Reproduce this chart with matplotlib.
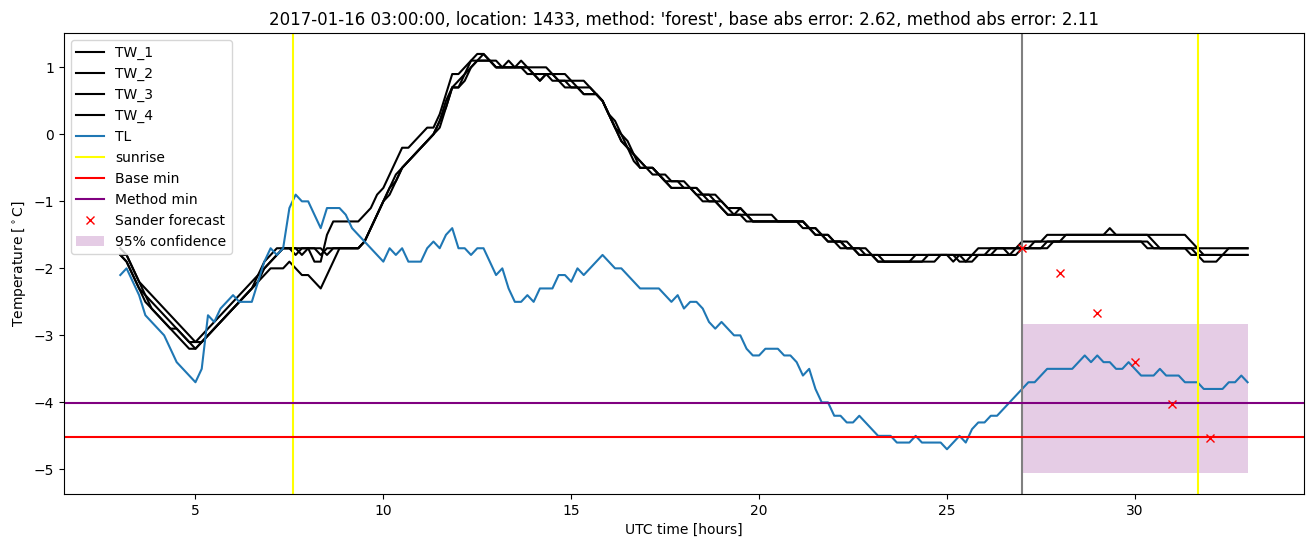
import numpy as np
import matplotlib
matplotlib.use("Agg")
import matplotlib.pyplot as plt

# time grid: 10-minute steps from 03:00 to 33:00 (hours since start of day)
start_hour = 3.0
step_hours = 1.0 / 6.0

TL = [
    -2.1, -2.0, -2.2, -2.4, -2.7, -2.8,   # 3
    -2.9, -3.0, -3.2, -3.4, -3.5, -3.6,   # 4
    -3.7, -3.5, -2.7, -2.8, -2.6, -2.5,   # 5
    -2.4, -2.5, -2.5, -2.5, -2.2, -1.9,   # 6
    -1.7, -1.8, -1.7, -1.1, -0.9, -1.0,   # 7
    -1.0, -1.2, -1.4, -1.1, -1.1, -1.1,   # 8
    -1.2, -1.4, -1.5, -1.6, -1.7, -1.8,   # 9
    -1.9, -1.7, -1.8, -1.7, -1.9, -1.9,   # 10
    -1.9, -1.7, -1.6, -1.7, -1.5, -1.4,   # 11
    -1.7, -1.7, -1.8, -1.7, -1.7, -1.9,   # 12
    -2.1, -2.0, -2.3, -2.5, -2.5, -2.4,   # 13
    -2.5, -2.3, -2.3, -2.3, -2.1, -2.1,   # 14
    -2.2, -2.0, -2.1, -2.0, -1.9, -1.8,   # 15
    -1.9, -2.0, -2.0, -2.1, -2.2, -2.3,   # 16
    -2.3, -2.3, -2.3, -2.4, -2.5, -2.4,   # 17
    -2.6, -2.5, -2.5, -2.6, -2.8, -2.9,   # 18
    -2.8, -2.9, -3.0, -3.0, -3.2, -3.3,   # 19
    -3.3, -3.2, -3.2, -3.2, -3.3, -3.3,   # 20
    -3.4, -3.6, -3.5, -3.8, -4.0, -4.0,   # 21
    -4.2, -4.2, -4.3, -4.3, -4.2, -4.3,   # 22
    -4.4, -4.5, -4.5, -4.5, -4.6, -4.6,   # 23
    -4.6, -4.5, -4.6, -4.6, -4.6, -4.6,   # 24
    -4.7, -4.6, -4.5, -4.6, -4.4, -4.3,   # 25
    -4.3, -4.2, -4.2, -4.1, -4.0, -3.9,   # 26
    -3.8, -3.7, -3.7, -3.6, -3.5, -3.5,   # 27
    -3.5, -3.5, -3.5, -3.4, -3.3, -3.4,   # 28
    -3.3, -3.4, -3.4, -3.5, -3.5, -3.4,   # 29
    -3.5, -3.6, -3.6, -3.6, -3.5, -3.6,   # 30
    -3.6, -3.6, -3.7, -3.7, -3.7, -3.8,   # 31
    -3.8, -3.8, -3.8, -3.7, -3.7, -3.6,   # 32
    -3.7,                                 # 33
]

TW_1 = [
    -1.7, -1.8, -2.0, -2.2, -2.3, -2.4,
    -2.5, -2.6, -2.7, -2.8, -2.9, -3.0,
    -3.1, -3.0, -2.9, -2.8, -2.7, -2.6,
    -2.5, -2.4, -2.3, -2.2, -2.1, -1.9,
    -1.8, -1.7, -1.7, -1.7, -1.8, -1.7,
    -1.7, -1.9, -1.9, -1.5, -1.3, -1.3,
    -1.3, -1.3, -1.3, -1.2, -1.1, -0.9,
    -0.8, -0.6, -0.4, -0.2, -0.2, -0.1,
    0.0, 0.1, 0.1, 0.3, 0.6, 0.9,
    0.9, 1.0, 1.1, 1.2, 1.2, 1.1,
    1.1, 1.0, 1.1, 1.0, 1.0, 1.0,
    1.0, 1.0, 1.0, 0.9, 0.9, 0.9,
    0.8, 0.8, 0.8, 0.7, 0.6, 0.5,
    0.3, 0.2, 0.0, -0.1, -0.3, -0.4,
    -0.5, -0.5, -0.6, -0.6, -0.7, -0.7,
    -0.7, -0.8, -0.8, -0.9, -0.9, -0.9,
    -1.0, -1.1, -1.1, -1.1, -1.2, -1.2,
    -1.2, -1.2, -1.2, -1.3, -1.3, -1.3,
    -1.3, -1.3, -1.4, -1.4, -1.5, -1.5,
    -1.6, -1.6, -1.6, -1.7, -1.7, -1.7,
    -1.8, -1.8, -1.8, -1.8, -1.8, -1.8,
    -1.8, -1.8, -1.8, -1.8, -1.8, -1.8,
    -1.8, -1.8, -1.8, -1.8, -1.8, -1.7,
    -1.7, -1.7, -1.7, -1.7, -1.7, -1.7,
    -1.6, -1.6, -1.6, -1.6, -1.5, -1.5,
    -1.5, -1.5, -1.5, -1.5, -1.5, -1.5,
    -1.5, -1.5, -1.4, -1.5, -1.5, -1.5,
    -1.5, -1.5, -1.5, -1.5, -1.5, -1.5,
    -1.5, -1.5, -1.5, -1.6, -1.7, -1.7,
    -1.7, -1.7, -1.7, -1.7, -1.7, -1.7,
    -1.7,
]

TW_2 = [
    -1.8, -1.9, -2.1, -2.3, -2.4, -2.5,
    -2.6, -2.7, -2.8, -2.9, -3.0, -3.1,
    -3.1, -3.1, -3.0, -2.9, -2.8, -2.7,
    -2.6, -2.5, -2.4, -2.3, -2.1, -2.0,
    -1.9, -1.8, -1.7, -1.7, -1.7, -1.7,
    -1.7, -1.7, -1.8, -1.7, -1.7, -1.7,
    -1.7, -1.7, -1.7, -1.6, -1.4, -1.2,
    -1.0, -0.8, -0.6, -0.5, -0.4, -0.3,
    -0.2, -0.1, 0.0, 0.2, 0.4, 0.7,
    0.8, 0.9, 1.1, 1.1, 1.2, 1.1,
    1.0, 1.0, 1.0, 1.0, 1.1, 1.0,
    0.9, 0.8, 0.9, 0.9, 0.8, 0.8,
    0.8, 0.7, 0.7, 0.7, 0.6, 0.5,
    0.3, 0.1, 0.0, -0.2, -0.3, -0.4,
    -0.5, -0.5, -0.6, -0.7, -0.7, -0.7,
    -0.8, -0.8, -0.8, -0.9, -0.9, -1.0,
    -1.0, -1.1, -1.2, -1.1, -1.2, -1.3,
    -1.3, -1.3, -1.3, -1.3, -1.3, -1.3,
    -1.3, -1.3, -1.4, -1.5, -1.5, -1.5,
    -1.6, -1.6, -1.7, -1.7, -1.7, -1.8,
    -1.8, -1.8, -1.9, -1.9, -1.9, -1.9,
    -1.9, -1.8, -1.8, -1.8, -1.8, -1.8,
    -1.8, -1.9, -1.8, -1.8, -1.8, -1.8,
    -1.8, -1.7, -1.7, -1.7, -1.8, -1.8,
    -1.7, -1.7, -1.7, -1.7, -1.6, -1.6,
    -1.6, -1.5, -1.5, -1.5, -1.5, -1.5,
    -1.5, -1.5, -1.5, -1.5, -1.5, -1.5,
    -1.5, -1.5, -1.5, -1.6, -1.7, -1.7,
    -1.7, -1.7, -1.7, -1.7, -1.7, -1.8,
    -1.8, -1.8, -1.8, -1.7, -1.7, -1.7,
    -1.7,
]

TW_3 = [
    -1.8, -1.8, -2.0, -2.2, -2.4, -2.6,
    -2.7, -2.8, -2.9, -2.9, -3.0, -3.1,
    -3.2, -3.1, -3.0, -2.9, -2.8, -2.7,
    -2.6, -2.5, -2.4, -2.3, -2.2, -2.0,
    -1.9, -1.8, -1.7, -1.7, -1.7, -1.8,
    -1.7, -1.7, -1.7, -1.8, -1.7, -1.7,
    -1.7, -1.7, -1.7, -1.6, -1.4, -1.2,
    -1.0, -0.8, -0.7, -0.5, -0.4, -0.3,
    -0.2, -0.1, 0.0, 0.2, 0.5, 0.7,
    0.7, 0.8, 1.0, 1.1, 1.1, 1.1,
    1.0, 1.0, 1.0, 1.0, 1.0, 0.9,
    0.9, 0.8, 0.9, 0.8, 0.8, 0.8,
    0.7, 0.7, 0.6, 0.6, 0.6, 0.5,
    0.3, 0.1, -0.1, -0.2, -0.3, -0.5,
    -0.5, -0.5, -0.6, -0.7, -0.8, -0.8,
    -0.8, -0.8, -0.9, -0.9, -1.0, -1.0,
    -1.1, -1.2, -1.2, -1.2, -1.3, -1.3,
    -1.3, -1.3, -1.3, -1.3, -1.3, -1.3,
    -1.3, -1.3, -1.4, -1.4, -1.5, -1.6,
    -1.6, -1.6, -1.7, -1.7, -1.8, -1.8,
    -1.8, -1.9, -1.9, -1.9, -1.9, -1.9,
    -1.9, -1.9, -1.9, -1.8, -1.8, -1.8,
    -1.8, -1.8, -1.9, -1.9, -1.8, -1.8,
    -1.8, -1.8, -1.8, -1.8, -1.8, -1.7,
    -1.7, -1.7, -1.7, -1.7, -1.7, -1.6,
    -1.6, -1.6, -1.6, -1.6, -1.6, -1.6,
    -1.6, -1.6, -1.6, -1.6, -1.6, -1.6,
    -1.6, -1.6, -1.6, -1.7, -1.7, -1.7,
    -1.7, -1.7, -1.7, -1.7, -1.8, -1.9,
    -1.9, -1.9, -1.8, -1.8, -1.8, -1.8,
    -1.8,
]

TW_4 = [
    -1.8, -1.9, -2.1, -2.3, -2.5, -2.6,
    -2.7, -2.8, -2.9, -3.0, -3.1, -3.2,
    -3.2, -3.1, -3.0, -2.9, -2.8, -2.7,
    -2.6, -2.5, -2.4, -2.3, -2.2, -2.1,
    -2.0, -2.0, -2.0, -1.9, -2.0, -2.1,
    -2.1, -2.2, -2.3, -2.1, -1.9, -1.7,
    -1.7, -1.7, -1.7, -1.6, -1.4, -1.2,
    -1.0, -0.9, -0.7, -0.5, -0.4, -0.3,
    -0.2, -0.1, 0.0, 0.1, 0.4, 0.7,
    0.7, 0.9, 1.0, 1.1, 1.1, 1.1,
    1.0, 1.0, 1.0, 1.0, 1.0, 1.0,
    0.9, 0.9, 0.9, 0.9, 0.8, 0.7,
    0.7, 0.7, 0.6, 0.6, 0.6, 0.5,
    0.3, 0.1, -0.1, -0.2, -0.4, -0.5,
    -0.5, -0.6, -0.6, -0.7, -0.8, -0.8,
    -0.8, -0.8, -0.9, -1.0, -1.0, -1.0,
    -1.1, -1.2, -1.2, -1.2, -1.2, -1.3,
    -1.3, -1.3, -1.3, -1.3, -1.3, -1.3,
    -1.3, -1.4, -1.4, -1.5, -1.5, -1.6,
    -1.6, -1.7, -1.7, -1.7, -1.8, -1.8,
    -1.8, -1.9, -1.9, -1.9, -1.9, -1.9,
    -1.9, -1.9, -1.9, -1.9, -1.9, -1.8,
    -1.8, -1.8, -1.8, -1.9, -1.9, -1.8,
    -1.8, -1.8, -1.7, -1.7, -1.7, -1.7,
    -1.7, -1.7, -1.6, -1.6, -1.6, -1.6,
    -1.6, -1.6, -1.6, -1.6, -1.6, -1.6,
    -1.6, -1.6, -1.6, -1.6, -1.6, -1.6,
    -1.6, -1.6, -1.7, -1.7, -1.7, -1.7,
    -1.7, -1.7, -1.7, -1.8, -1.8, -1.8,
    -1.8, -1.8, -1.8, -1.8, -1.8, -1.8,
    -1.8,
]

sunrise_hours = [7.6, 31.68]
forecast_start = 27.0
base_min = -4.52
method_min = -4.01
sander_hours = [27, 28, 29, 30, 31, 32]
sander_values = [-1.70, -2.07, -2.67, -3.40, -4.02, -4.53]
conf_hours = [27.0, 33.0]
conf_low = -5.055
conf_high = -2.836

title = ("2017-01-16 03:00:00, location: 1433, method: 'forest', "
         "base abs error: 2.62, method abs error: 2.11")

t = start_hour + step_hours * np.arange(len(TL))

fig = plt.figure(figsize=(13.13, 5.47), dpi=100)
ax = fig.add_axes([0.0487, 0.0969, 0.9444, 0.8428])

for name, series in [("TW_1", TW_1), ("TW_2", TW_2), ("TW_3", TW_3), ("TW_4", TW_4)]:
    ax.plot(t, series, color="black", label=name)
ax.plot(t, TL, color="tab:blue", label="TL")
ax.axvline(sunrise_hours[0], color="yellow", label="sunrise")
ax.axvline(sunrise_hours[1], color="yellow")
ax.axvline(forecast_start, color="grey")
ax.axhline(base_min, color="red", label="Base min")
ax.axhline(method_min, color="purple", label="Method min")
ax.plot(sander_hours, sander_values, "rx", label="Sander forecast")
ax.fill_between(conf_hours, [conf_low, conf_low], [conf_high, conf_high],
                color="purple", alpha=0.2, linewidth=0, label="95% confidence")

ax.set_title(title)
ax.set_xlabel("UTC time [hours]")
ax.set_ylabel(r"Temperature [$^\circ$C]")
ax.legend(loc="upper left")

fig.savefig("out.png", dpi=100)
